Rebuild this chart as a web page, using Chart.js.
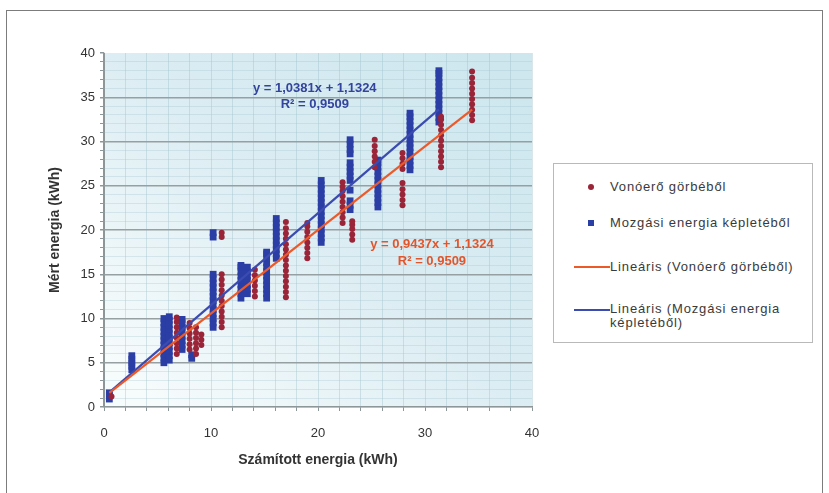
<!DOCTYPE html>
<html>
<head>
<meta charset="utf-8">
<script src="https://cdn.jsdelivr.net/npm/chart.js@4.4.1/dist/chart.umd.min.js"></script>
<style>
  body { margin: 0; background: #fff; font-family: "Liberation Sans", Arial, sans-serif; }
  #wrap { position: relative; width: 829px; height: 493px; overflow: hidden; }
  #frame { position: absolute; left: 6px; top: 10px; width: 815px; height: 520px; border: 1.5px solid #7c7c7c; }
  #chart { position: absolute; left: 0; top: 0; }
  #legend { position: absolute; left: 553px; top: 163px; width: 258px; height: 178px; border: 1px solid #b9b9b9; background: #fff; }
  #legend .txt { position: absolute; left: 56px; font-size: 13px; letter-spacing: 0.85px; color: #3a3a3a; white-space: nowrap; line-height: 14px; }
  #legend .dot { position: absolute; left: 34px; width: 6px; height: 6px; border-radius: 50%; background: #9a2438; }
  #legend .sq { position: absolute; left: 34px; width: 6px; height: 6px; background: #2b3ea6; }
  #legend .ln { position: absolute; left: 20px; width: 36px; height: 2px; }
</style>
</head>
<body>
<div id="wrap">
  <div id="frame"></div>
  <canvas id="chart" width="829" height="493"></canvas>
  <div id="legend">
    <div class="dot" style="top:20px"></div>
    <div class="txt" style="top:16px">Vonóerő görbéből</div>
    <div class="sq" style="top:56px"></div>
    <div class="txt" style="top:52px">Mozgási energia képletéből</div>
    <div class="ln" style="top:102px; background:#ec5a2a"></div>
    <div class="txt" style="top:96px">Lineáris (Vonóerő görbéből)</div>
    <div class="ln" style="top:145px; background:#3b4bb0"></div>
    <div class="txt" style="top:138px">Lineáris (Mozgási energia<br>képletéből)</div>
  </div>
</div>
<script>
// Vonóerő görbéből: oszlopok x értéke és a hozzájuk tartozó mért energiák
const vonoeroX = [0.7, 6.8, 8.0, 8.6, 9.1, 11.0, 14.1, 17.0, 19.0, 22.3, 23.2, 25.3, 27.9, 31.5, 34.4];
const vonoeroY = [
  [1.2],
  [6.0, 6.6, 7.2, 7.8, 8.4, 9.0, 9.6, 10.1],
  [6.5, 7.1, 7.7, 8.3, 8.9, 9.5],
  [6.0, 6.6, 7.2, 7.8, 8.4, 9.0],
  [7.0, 7.6, 8.2],
  [9.0, 9.6, 10.2, 10.8, 11.4, 12.0, 12.6, 13.2, 13.8, 14.4, 15.0, 19.2, 19.7],
  [12.5, 13.1, 13.7, 14.3, 14.9, 15.5],
  [12.4, 13.0, 13.6, 14.2, 14.8, 15.4, 16.0, 16.6, 17.2, 17.8, 18.4, 19.0, 19.6, 20.2, 20.9],
  [16.8, 17.4, 18.0, 18.6, 19.2, 19.8, 20.4, 20.8],
  [20.8, 21.4, 22.0, 22.6, 23.2, 23.8, 24.4, 24.9, 25.4],
  [18.9, 19.5, 20.1, 20.6, 21.0],
  [27.1, 27.7, 28.3, 28.9, 29.5, 30.2],
  [22.8, 23.4, 24.0, 24.6, 25.3, 26.9, 27.5, 28.1, 28.7],
  [27.1, 27.7, 28.3, 28.9, 29.5, 30.1, 30.7, 31.3, 31.9, 32.5, 32.8],
  [32.4, 33.0, 33.6, 34.2, 34.8, 35.4, 36.0, 36.6, 37.2, 37.9]
];

// Mozgási energia képletéből
const mozgasiX = [0.5, 2.6, 5.6, 6.1, 7.3, 8.2, 10.2, 12.8, 13.4, 15.2, 16.1, 20.3, 23.0, 25.6, 28.6, 31.3];
const mozgasiY = [
  [0.9, 1.3, 1.6],
  [4.2, 4.6, 5.0, 5.4, 5.8],
  [5.0, 5.5, 6.0, 6.5, 7.0, 7.5, 8.0, 8.5, 9.0, 9.5, 10.0],
  [5.3, 5.8, 6.3, 6.8, 7.3, 7.8, 8.3, 8.8, 9.3, 9.8, 10.2],
  [6.5, 7.0, 7.5, 8.0, 8.5, 9.0, 9.5, 9.9],
  [5.5, 5.9],
  [9.0, 9.5, 10.0, 10.5, 11.0, 11.5, 12.0, 12.5, 13.0, 13.5, 14.0, 14.5, 15.0, 19.2, 19.7],
  [12.3, 12.8, 13.3, 13.8, 14.3, 14.8, 15.3, 15.8, 16.0],
  [12.8, 13.3, 13.8, 14.3, 14.8, 15.3, 15.8],
  [12.3, 12.8, 13.3, 13.8, 14.3, 14.8, 15.3, 15.8, 16.3, 16.8, 17.3, 17.5],
  [16.8, 17.3, 17.8, 18.3, 18.8, 19.3, 19.8, 20.3, 20.8, 21.3],
  [18.6, 19.1, 19.6, 20.1, 20.6, 21.1, 21.6, 22.1, 22.6, 23.1, 23.6, 24.1, 24.6, 25.1, 25.6],
  [22.3, 22.8, 23.3, 24.5, 25.6, 26.1, 26.6, 27.1, 27.6, 28.6, 29.1, 29.7, 30.2],
  [22.6, 23.1, 23.6, 24.1, 24.6, 25.1, 25.6, 26.1, 26.6, 27.1, 27.6, 27.9],
  [26.8, 27.3, 27.8, 28.3, 28.8, 29.3, 29.8, 30.3, 30.8, 31.3, 31.8, 32.3, 32.8, 33.2],
  [32.2, 32.7, 33.2, 33.7, 34.2, 34.7, 35.2, 35.7, 36.2, 36.7, 37.2, 37.7, 38.0]
];

// Lineáris trendvonalak végpontjai
const trendVonoeroX = [0.5, 34.4];
const trendVonoeroY = [1.604, 33.596];   // y = 0,9437x + 1,1324
const trendMozgasiX = [0.5, 31.3];
const trendMozgasiY = [1.652, 33.625];   // y = 1,0381x + 1,1324

const xTicks = [0, 10, 20, 30, 40];
const yTicks = [0, 5, 10, 15, 20, 25, 30, 35, 40];

const FONT = '"Liberation Sans", Arial, sans-serif';

function toPoints(xs, ys) {
  const pts = [];
  xs.forEach((x, i) => ys[i].forEach(y => pts.push({ x: x, y: y })));
  return pts;
}

function toLine(xs, ys) {
  return xs.map((x, i) => ({ x: x, y: ys[i] }));
}

// egyenletek a trendvonalak mellett
const equations = [
  { text: 'y = 1,0381x + 1,1324', x: 19.7, y: 36.0, color: '#33439e' },
  { text: 'R² = 0,9509', x: 19.7, y: 34.2, color: '#33439e' },
  { text: 'y = 0,9437x + 1,1324', x: 30.65, y: 18.4, color: '#e2552b' },
  { text: 'R² = 0,9509', x: 30.65, y: 16.4, color: '#e2552b' }
];

const plotBackground = {
  id: 'plotBackground',
  beforeDraw(chart) {
    const { ctx, chartArea: a } = chart;
    const g = ctx.createLinearGradient(a.right - 60, a.top, a.left + 60, a.bottom);
    g.addColorStop(0, '#cee7ef');
    g.addColorStop(0.5, '#dcedf3');
    g.addColorStop(1, '#f6fbfc');
    ctx.save();
    ctx.fillStyle = g;
    ctx.fillRect(a.left, a.top, a.width, a.height);
    ctx.restore();
  }
};

const trendLabels = {
  id: 'trendLabels',
  afterDatasetsDraw(chart) {
    const { ctx, scales: { x, y } } = chart;
    ctx.save();
    ctx.font = 'bold 13px ' + FONT;
    ctx.textAlign = 'center';
    ctx.textBaseline = 'middle';
    equations.forEach(e => {
      ctx.fillStyle = e.color;
      ctx.fillText(e.text, x.getPixelForValue(e.x), y.getPixelForValue(e.y));
    });
    ctx.restore();
  }
};

new Chart(document.getElementById('chart'), {
  type: 'scatter',
  data: {
    datasets: [
      {
        label: 'Vonóerő görbéből',
        data: toPoints(vonoeroX, vonoeroY),
        pointStyle: 'circle',
        pointRadius: 3,
        backgroundColor: '#9a2438',
        borderWidth: 0,
        order: 2
      },
      {
        label: 'Mozgási energia képletéből',
        data: toPoints(mozgasiX, mozgasiY),
        pointStyle: 'rect',
        pointRadius: 4.8,
        backgroundColor: '#2b3ea6',
        borderWidth: 0,
        order: 3
      },
      {
        label: 'Lineáris (Vonóerő görbéből)',
        data: toLine(trendVonoeroX, trendVonoeroY),
        showLine: true,
        borderColor: '#ec5a2a',
        borderWidth: 2.2,
        pointRadius: 0,
        order: 0
      },
      {
        label: 'Lineáris (Mozgási energia képletéből)',
        data: toLine(trendMozgasiX, trendMozgasiY),
        showLine: true,
        borderColor: '#3b4bb0',
        borderWidth: 2.2,
        pointRadius: 0,
        order: 1
      }
    ]
  },
  options: {
    responsive: false,
    animation: false,
    layout: { padding: { left: 42.6, top: 53, right: 297, bottom: 20.6 } },
    plugins: {
      legend: { display: false },
      tooltip: { enabled: false }
    },
    scales: {
      x: {
        type: 'linear',
        min: 0,
        max: 40,
        afterFit(scale) { scale.height = 65.4; },
        ticks: {
          stepSize: 2,
          autoSkip: false,
          maxRotation: 0,
          padding: 15,
          color: '#333',
          font: { family: FONT, size: 13 },
          callback: v => xTicks.includes(v) ? String(v) : ''
        },
        grid: {
          color: ctx => ctx.tick && (ctx.tick.value === 0) ? '#8d9698' : 'rgba(150,185,196,0.35)',
          tickColor: '#8d9698',
          tickLength: 4
        },
        border: { color: '#8d9698', width: 1.2 },
        title: {
          display: true,
          text: 'Számított energia (kWh)',
          color: '#333',
          font: { family: FONT, size: 14, weight: 'bold' }
        }
      },
      y: {
        type: 'linear',
        min: 0,
        max: 40,
        afterFit(scale) { scale.width = 61.4; },
        ticks: {
          stepSize: 1,
          autoSkip: false,
          padding: 5,
          color: '#333',
          font: { family: FONT, size: 13 },
          callback: v => yTicks.includes(v) ? String(v) : ''
        },
        grid: {
          color: ctx => {
            const v = ctx.tick ? ctx.tick.value : -1;
            if (v === 40) return 'rgba(0,0,0,0)';
            return v % 5 === 0 ? '#96a0a2' : 'rgba(160,192,202,0.3)';
          },
          lineWidth: ctx => (ctx.tick && ctx.tick.value % 5 === 0) ? 1.5 : 1,
          tickColor: '#8d9698',
          tickLength: 4
        },
        border: { color: '#8d9698', width: 1.2 },
        title: {
          display: true,
          text: 'Mért energia (kWh)',
          color: '#333',
          font: { family: FONT, size: 14, weight: 'bold' }
        }
      }
    }
  },
  plugins: [plotBackground, trendLabels]
});
</script>
</body>
</html>
